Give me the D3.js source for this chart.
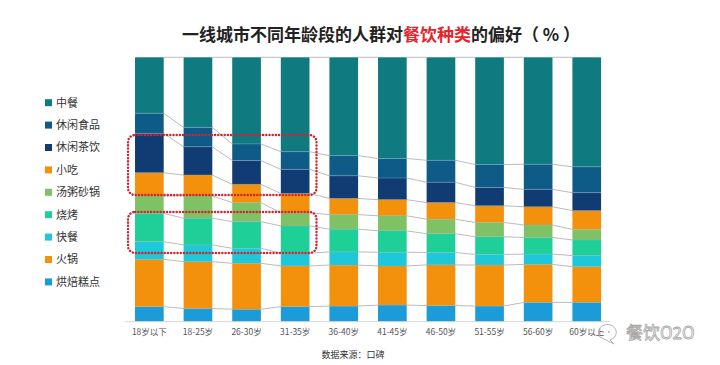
<!DOCTYPE html>
<html><head><meta charset="utf-8">
<script src="https://cdn.jsdelivr.net/npm/d3@7/dist/d3.min.js"></script>
<style>
body{margin:0;background:#fff;}
svg{display:block;font-family:"Noto Sans CJK SC","Noto Sans",sans-serif;}
</style></head>
<body>
<svg id="c" width="720" height="365"></svg>
<script>
const categories = ["18岁以下","18-25岁","26-30岁","31-35岁","36-40岁","41-45岁","46-50岁","51-55岁","56-60岁","60岁以上"];
// bottom-to-top stacking order
const seriesNames = ["烘焙糕点","火锅","快餐","烧烤","汤粥砂锅","小吃","休闲茶饮","休闲食品","中餐"];
const 中餐     = [21.2,26.5,32.8,35.7,37.2,38.3,39.0,40.5,40.5,41.4];
const 休闲食品 = [7.6,7.3,6.3,6.7,7.6,7.4,8.3,8.7,9.5,9.8];
const 休闲茶饮 = [14.9,10.7,9.0,9.1,8.6,8.2,7.7,6.9,6.6,6.8];
const 小吃     = [8.8,7.9,6.9,7.3,6.1,6.1,6.3,6.3,6.9,7.1];
const 汤粥砂锅 = [6.6,8.4,7.2,5.0,5.5,5.7,5.5,5.4,4.7,4.0];
const 烧烤     = [10.7,10.1,10.1,10.3,8.6,8.1,7.1,6.7,6.3,5.9];
const 快餐     = [6.7,6.3,5.7,4.8,5.0,5.2,4.7,4.0,3.9,4.2];
const 火锅     = [17.9,17.7,17.4,15.4,15.5,14.8,15.4,15.5,14.4,13.5];
const 烘焙糕点 = [5.7,5.0,4.7,5.7,5.9,6.3,6.1,5.9,7.3,7.3];
const legendOrder = ["中餐","休闲食品","休闲茶饮","小吃","汤粥砂锅","烧烤","快餐","火锅","烘焙糕点"];

const valuesBySeries = {中餐,休闲食品,休闲茶饮,小吃,汤粥砂锅,烧烤,快餐,火锅,烘焙糕点};
const colors = {
  "中餐":"#0f7a80","休闲食品":"#0d5b86","休闲茶饮":"#113b73","小吃":"#f3900c",
  "汤粥砂锅":"#7fc266","烧烤":"#1fcf98","快餐":"#1fc8d8","火锅":"#f3900c","烘焙糕点":"#1b9bd8"
};

const table = categories.map((c,i)=>{
  const r = {cat:c};
  seriesNames.forEach(s=> r[s]=valuesBySeries[s][i]);
  return r;
});
const stacked = d3.stack().keys(seriesNames).offset(d3.stackOffsetExpand)(table);

const svg = d3.select("#c");
const x = d3.scaleBand().domain(categories).range([125.3,610.8]).paddingInner(0.41).paddingOuter(0.2);
const y = d3.scaleLinear().domain([0,1]).range([321.7,57.3]);
const bw = x.bandwidth();

// connector lines between bars
const boundaries = stacked.map(s=>s.map(d=>d[1]));
const conn = svg.append("g").attr("stroke","#a9a9a9").attr("stroke-width",0.8).attr("fill","none");
boundaries.forEach(b=>{
  for(let i=0;i<categories.length-1;i++){
    conn.append("line")
      .attr("x1",x(categories[i])+bw).attr("y1",y(b[i]))
      .attr("x2",x(categories[i+1])).attr("y2",y(b[i+1]));
  }
});

// bars
svg.append("g").selectAll("g").data(stacked).join("g")
  .attr("fill",d=>colors[d.key])
  .selectAll("rect").data(d=>d).join("rect")
  .attr("x",d=>x(d.data.cat)).attr("width",bw)
  .attr("y",d=>y(d[1])).attr("height",d=>y(d[0])-y(d[1]));

// separators inside bars
const sep = svg.append("g").attr("stroke","#8fb6c0").attr("stroke-width",0.6).attr("opacity",0.7);
boundaries.slice(0,-1).forEach(b=>{
  categories.forEach((c,i)=>{
    sep.append("line").attr("x1",x(c)).attr("x2",x(c)+bw).attr("y1",y(b[i])).attr("y2",y(b[i]));
  });
});

// axis
const xAxis = svg.append("g").attr("transform",`translate(0,${y(0)})`)
  .call(d3.axisBottom(x).tickSize(0).tickPadding(7));
xAxis.select(".domain").attr("stroke","#d8d8d8").attr("d",`M${x.range()[0]},0H${x.range()[1]}`);
xAxis.selectAll("text").attr("font-size",8.5).attr("fill","#555")
  .attr("font-family",'"Noto Sans CJK SC",sans-serif');

// annotations (red dotted rounded rectangles)
const annX0 = x(categories[0]) - 7, annX1 = x(categories[3]) + bw + 7;
const annBands = [[0.706,0.479],[0.415,0.26]];
svg.append("g").selectAll("rect").data(annBands).join("rect")
  .attr("x",annX0).attr("width",annX1-annX0)
  .attr("y",d=>y(d[0])).attr("height",d=>y(d[1])-y(d[0]))
  .attr("rx",7).attr("fill","none").attr("stroke","#d3232e")
  .attr("stroke-width",2.4).attr("stroke-dasharray","0.1,3.1").attr("stroke-linecap","round");

// legend
const lg = svg.append("g").selectAll("g").data(legendOrder).join("g")
  .attr("transform",(d,i)=>`translate(45,${102.7+i*22.4})`);
lg.append("rect").attr("x",0).attr("y",-3.5).attr("width",7).attr("height",7).attr("fill",d=>colors[d]);
lg.append("text").attr("x",11).attr("y",0).attr("dy","0.35em").attr("font-size",11).attr("fill","#333").text(d=>d);

// title
const title = svg.append("text").attr("x",381).attr("y",41).attr("text-anchor","middle")
  .attr("font-size",17).attr("font-weight","bold").attr("fill","#222");
title.append("tspan").text("一线城市不同年龄段的人群对");
title.append("tspan").attr("fill","#e8232b").text("餐饮种类");
title.append("tspan").text("的偏好（ % ）");

// source
svg.append("text").attr("x",353).attr("y",358).attr("text-anchor","middle")
  .attr("font-size",9).attr("fill","#333").text("数据来源：口碑");

// watermark
const wm = svg.append("g").attr("transform","translate(606,333)");
wm.append("path").attr("d","M-6,4 A9,8 0 1 1 4,7 L8,11 L2,8 Z").attr("fill","none").attr("stroke","#b5b5b5").attr("stroke-width",1);
wm.append("circle").attr("cx",-3).attr("cy",-1).attr("r",1).attr("fill","#b5b5b5");
wm.append("circle").attr("cx",3).attr("cy",-1).attr("r",1).attr("fill","#b5b5b5");
wm.append("text").attr("x",20).attr("y",6).attr("font-size",17).attr("fill","#fff")
  .attr("stroke","#a8a8a8").attr("stroke-width",0.8).text("餐饮O2O");
</script>
</body></html>
